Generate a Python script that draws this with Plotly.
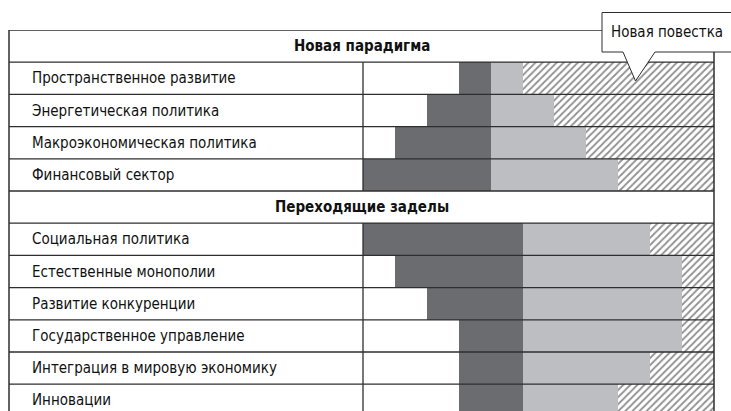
import plotly.graph_objects as go

# ---- data ----
group_titles = ["Новая парадигма", "Переходящие заделы"]
labels_g1 = ["Пространственное развитие", "Энергетическая политика",
             "Макроэкономическая политика", "Финансовый сектор"]
labels_g2 = ["Социальная политика", "Естественные монополии", "Развитие конкуренции",
             "Государственное управление", "Интеграция в мировую экономику", "Инновации"]
start_g1 = [3, 2, 1, 0]
dark_g1 = [1, 2, 3, 4]
light_g1 = [1, 2, 3, 4]
hatch_g1 = [6, 5, 4, 3]
start_g2 = [0, 1, 2, 3, 3, 3]
dark_g2 = [5, 4, 3, 2, 2, 2]
light_g2 = [4, 5, 5, 5, 4, 3]
hatch_g2 = [2, 1, 1, 1, 2, 3]
callout_text = "Новая повестка"

# ---- build rows ----
rows = []  # (kind, label, start, dark, light, hatch)
rows.append(("head", group_titles[0], 0, 0, 0, 0))
for i in range(len(labels_g1)):
    rows.append(("data", labels_g1[i], start_g1[i], dark_g1[i], light_g1[i], hatch_g1[i]))
rows.append(("head", group_titles[1], 0, 0, 0, 0))
for i in range(len(labels_g2)):
    rows.append(("data", labels_g2[i], start_g2[i], dark_g2[i], light_g2[i], hatch_g2[i]))

W, H = 731, 411
def px(x):
    return x / W
def py(y):
    return 1 - y / H

data_idx = [i for i, r in enumerate(rows) if r[0] == "data"]
ys = data_idx
starts = [rows[i][2] for i in data_idx]
darks = [rows[i][3] for i in data_idx]
lights = [rows[i][4] for i in data_idx]
hatches = [rows[i][5] for i in data_idx]

DARK = "#6b6c70"
LIGHT = "#bdbec1"

fig = go.Figure()
fig.add_trace(go.Bar(y=ys, x=darks, base=starts, orientation="h", width=1,
                     marker=dict(color=DARK, line=dict(width=0)), hoverinfo="skip"))
fig.add_trace(go.Bar(y=ys, x=lights, base=[s + d for s, d in zip(starts, darks)],
                     orientation="h", width=1,
                     marker=dict(color=LIGHT, line=dict(width=0)), hoverinfo="skip"))
fig.add_trace(go.Bar(y=ys, x=hatches, base=[s + d + l for s, d, l in zip(starts, darks, lights)],
                     orientation="h", width=1,
                     marker=dict(color="white", line=dict(width=0),
                                 pattern=dict(shape="/", size=5, solidity=0.35,
                                              fgcolor="#1e1e1e", bgcolor="white")),
                     hoverinfo="skip"))

total_units = max(s + d + l + h for s, d, l, h in zip(starts, darks, lights, hatches))
row_h = 32.2
plot_top = 30
n_vis = (H - plot_top) / row_h

FONT = "DejaVu Sans Condensed, Liberation Sans Narrow, Roboto, sans-serif"
LINE = "#2e2e2e"
x_left, x_mid, x_right = 9, 363, 714

shapes = []
# horizontal lines
for k in range(len(rows) + 1):
    shapes.append(dict(type="line", xref="paper", yref="y", x0=px(x_left),
                       x1=px(x_right) if k > 0 else px(602), y0=k - 0.5, y1=k - 0.5,
                       line=dict(color=LINE, width=1.3), layer="above"))
# vertical divider on data rows
for i in data_idx:
    shapes.append(dict(type="line", xref="paper", yref="y", x0=px(x_mid), x1=px(x_mid),
                       y0=i - 0.5, y1=i + 0.5, line=dict(color=LINE, width=1.3), layer="above"))
# left & right borders
shapes.append(dict(type="line", xref="paper", yref="y", x0=px(x_left), x1=px(x_left),
                   y0=-0.5, y1=len(rows) + 0.5, line=dict(color=LINE, width=1.5), layer="above"))
shapes.append(dict(type="line", xref="paper", yref="y", x0=px(x_right), x1=px(x_right),
                   y0=-0.5, y1=len(rows) + 0.5, line=dict(color=LINE, width=1.5), layer="above"))
# callout
bx0, bx1, by0, by1 = 602, 740, 12.5, 52
path = (f"M {px(bx0)},{py(by0)} L {px(bx1)},{py(by0)} L {px(bx1)},{py(by1)} "
        f"L {px(655)},{py(by1)} L {px(635.5)},{py(81)} L {px(623)},{py(by1)} "
        f"L {px(bx0)},{py(by1)} Z")
shapes.append(dict(type="path", xref="paper", yref="paper", path=path,
                   fillcolor="white", line=dict(color=LINE, width=1), layer="above"))

annotations = []
for i, r in enumerate(rows):
    if r[0] == "head":
        annotations.append(dict(xref="paper", yref="y", x=px((x_left + x_right) / 2), y=i,
                                text="<b>" + r[1] + "</b>", showarrow=False,
                                xanchor="center", yanchor="middle",
                                font=dict(family=FONT, size=15, color="#111")))
    else:
        annotations.append(dict(xref="paper", yref="y", x=px(30), y=i, text=r[1],
                                showarrow=False, xanchor="left", yanchor="middle",
                                font=dict(family=FONT, size=15, color="#111")))
annotations.append(dict(xref="paper", yref="paper", x=px(667), y=py(32), text=callout_text,
                        showarrow=False, xanchor="center", yanchor="middle",
                        font=dict(family=FONT, size=15, color="#111")))

fig.update_layout(
    width=W, height=H, margin=dict(l=0, r=0, t=0, b=0),
    paper_bgcolor="white", plot_bgcolor="white",
    barmode="overlay", showlegend=False, bargap=0,
    xaxis=dict(domain=[px(x_mid), px(x_right)], range=[0, total_units],
               showgrid=False, zeroline=False, showticklabels=False, fixedrange=True),
    yaxis=dict(domain=[0, 1 - plot_top / H], range=[n_vis - 0.5, -0.5],
               showgrid=False, zeroline=False, showticklabels=False, fixedrange=True),
    shapes=shapes, annotations=annotations,
)
fig.write_html("out.html", config={"displayModeBar": False},
               post_script="document.body.style.margin='0';")
